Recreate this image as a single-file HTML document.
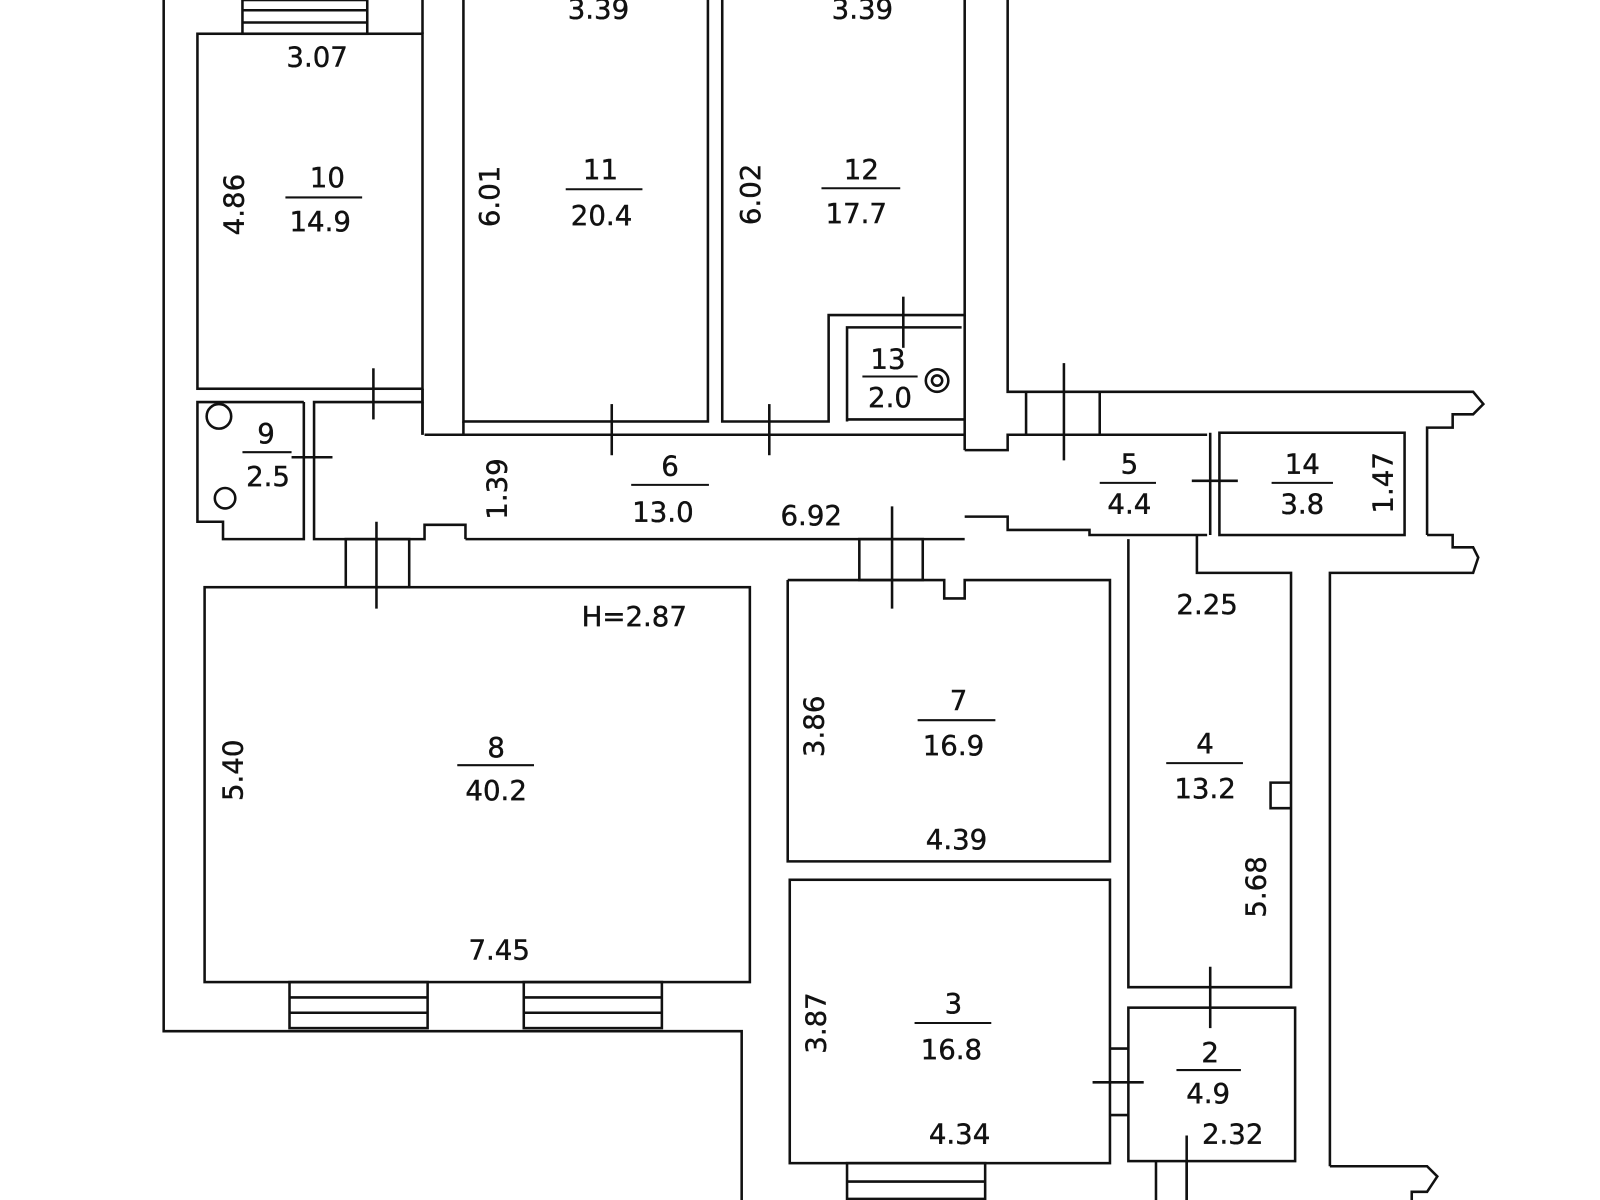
<!DOCTYPE html>
<html><head><meta charset="utf-8"><style>
html,body{margin:0;padding:0;background:#fff;width:1600px;height:1200px;overflow:hidden}
svg{display:block}
text{font-family:"DejaVu Sans","Liberation Sans",sans-serif;font-size:27px;fill:#111;text-anchor:middle;stroke:#111;stroke-width:0.4}
</style></head><body>
<svg width="1600" height="1200" viewBox="0 0 1600 1200" xmlns="http://www.w3.org/2000/svg">
<g transform="scale(1.023)">
<g fill="none" stroke="#111" stroke-width="2.5">
<polyline points="160,0 160,1008 725,1008 725,1200"/>
<rect x="193" y="33" width="220" height="347"/>
<rect x="237" y="0" width="122" height="33"/>
<line x1="237" y1="10" x2="359" y2="10"/><line x1="237" y1="22" x2="359" y2="22"/>
<polyline points="413,380 413,393 307,393 307,527 415,527 415,513 455,513 455,527"/>
<line x1="413" y1="0" x2="413" y2="33"/>
<line x1="413" y1="380" x2="413" y2="425"/>
<line x1="415" y1="425" x2="943" y2="425"/>
<line x1="413" y1="393" x2="413" y2="425"/>
<line x1="455" y1="527" x2="943" y2="527"/>
<polyline points="297,393 193,393 193,510 218,510 218,527 297,527 297,393"/>
<rect x="453" y="-5" width="239" height="417"/>
<line x1="453" y1="425" x2="453" y2="412"/>
<polyline points="706,-5 706,412 810,412 810,308 943,308 943,-5"/>
<polyline points="828,412 828,320 940,320"/>
<line x1="828" y1="410" x2="943" y2="410"/>
<line x1="943" y1="308" x2="943" y2="440"/>
<polyline points="985,0 985,383 1440,383 1450,395 1440,405 1420,405 1420,418 1395,418 1395,523"/>
<polyline points="943,440 985,440 985,425 1180,425"/>
<line x1="1075" y1="383" x2="1075" y2="425"/><line x1="1003" y1="383" x2="1003" y2="425"/>
<polyline points="943,505 985,505 985,518 1065,518 1065,523 1180,523"/>
<rect x="1192" y="423" width="181" height="100"/>
<line x1="1183" y1="423" x2="1183" y2="523"/>
<polyline points="1395,523 1420,523 1420,535 1440,535 1445,545 1440,560 1300,560 1300,1140"/>
<polyline points="1170,523 1170,560 1262,560 1262,965 1103,965 1103,527"/>
<rect x="200" y="574" width="533" height="386"/>
<rect x="283" y="960" width="135" height="45"/><line x1="283" y1="975" x2="418" y2="975"/><line x1="283" y1="990" x2="418" y2="990"/>
<rect x="512" y="960" width="135" height="45"/><line x1="512" y1="975" x2="647" y2="975"/><line x1="512" y1="990" x2="647" y2="990"/>
<rect x="338" y="527" width="62" height="47"/>
<polyline points="770,567 770,842 1085,842 1085,567 943,567 943,585 923,585 923,567 770,567"/>
<rect x="840" y="527" width="62" height="40"/>
<rect x="772" y="860" width="313" height="277"/>
<rect x="828" y="1137" width="135" height="63"/><line x1="828" y1="1155" x2="963" y2="1155"/><line x1="828" y1="1172" x2="963" y2="1172"/>
<rect x="1103" y="985" width="163" height="150"/>
<line x1="1085" y1="1025" x2="1103" y2="1025"/><line x1="1085" y1="1090" x2="1103" y2="1090"/>
<polyline points="1300,1140 1395,1140 1405,1150 1395,1165 1380,1165 1380,1200"/>
<line x1="1130" y1="1135" x2="1130" y2="1200"/><line x1="1160" y1="1135" x2="1160" y2="1200"/>
<polyline points="1262,765 1242,765 1242,790 1262,790"/>
<line x1="365" y1="360" x2="365" y2="410"/><line x1="598" y1="395" x2="598" y2="445"/><line x1="752" y1="395" x2="752" y2="445"/>
<line x1="883" y1="290" x2="883" y2="340"/><line x1="1040" y1="355" x2="1040" y2="450"/>
<line x1="285" y1="447" x2="325" y2="447"/><line x1="368" y1="510" x2="368" y2="595"/>
<line x1="872" y1="495" x2="872" y2="595"/><line x1="1165" y1="470" x2="1210" y2="470"/>
<line x1="1183" y1="945" x2="1183" y2="1005"/><line x1="1068" y1="1058" x2="1118" y2="1058"/>
<line x1="1160" y1="1110" x2="1160" y2="1200"/>
<circle cx="916" cy="372" r="11"/><circle cx="916" cy="372" r="5"/>
<circle cx="214" cy="407" r="12"/><circle cx="220" cy="487" r="10"/>
</g>
<g>
<text x="585" y="18">3.39</text><text x="843" y="18">3.39</text>
<text x="310" y="65">3.07</text>
<text x="320" y="183">10</text><text x="313" y="226">14.9</text>
<text x="587" y="175">11</text><text x="588" y="220">20.4</text>
<text x="842" y="175">12</text><text x="837" y="218">17.7</text>
<text x="868" y="360">13</text><text x="870" y="398">2.0</text>
<text x="260" y="433">9</text><text x="262" y="475">2.5</text>
<text x="655" y="465">6</text><text x="648" y="510">13.0</text>
<text x="793" y="513">6.92</text>
<text x="1104" y="463">5</text><text x="1104" y="502">4.4</text>
<text x="1273" y="463">14</text><text x="1273" y="502">3.8</text>
<text x="620" y="612">H=2.87</text>
<text x="1180" y="600">2.25</text>
<text x="485" y="740">8</text><text x="485" y="782">40.2</text>
<text x="937" y="694">7</text><text x="932" y="738">16.9</text>
<text x="935" y="830">4.39</text>
<text x="1178" y="736">4</text><text x="1178" y="780">13.2</text>
<text x="488" y="938">7.45</text>
<text x="932" y="990">3</text><text x="930" y="1035">16.8</text>
<text x="1183" y="1038">2</text><text x="1181" y="1078">4.9</text>
<text x="938" y="1118">4.34</text><text x="1205" y="1118">2.32</text>
<text transform="translate(238,200) rotate(-90)">4.86</text>
<text transform="translate(488,192) rotate(-90)">6.01</text>
<text transform="translate(743,190) rotate(-90)">6.02</text>
<text transform="translate(495,478) rotate(-90)">1.39</text>
<text transform="translate(1361,472) rotate(-90)">1.47</text>
<text transform="translate(237,753) rotate(-90)">5.40</text>
<text transform="translate(805,710) rotate(-90)">3.86</text>
<text transform="translate(1237,867) rotate(-90)">5.68</text>
<text transform="translate(807,1000) rotate(-90)">3.87</text>
</g>
<g stroke="#111" stroke-width="2">
<line x1="279" y1="193" x2="354" y2="193"/><line x1="553" y1="185" x2="628" y2="185"/><line x1="803" y1="184" x2="880" y2="184"/>
<line x1="843" y1="368" x2="897" y2="368"/><line x1="237" y1="442" x2="285" y2="442"/><line x1="617" y1="474" x2="693" y2="474"/>
<line x1="1075" y1="472" x2="1130" y2="472"/><line x1="1243" y1="472" x2="1303" y2="472"/><line x1="447" y1="748" x2="522" y2="748"/>
<line x1="897" y1="704" x2="973" y2="704"/><line x1="1140" y1="746" x2="1215" y2="746"/><line x1="894" y1="1000" x2="969" y2="1000"/>
<line x1="1150" y1="1046" x2="1213" y2="1046"/>
</g>
</g>
</svg>
</body></html>
